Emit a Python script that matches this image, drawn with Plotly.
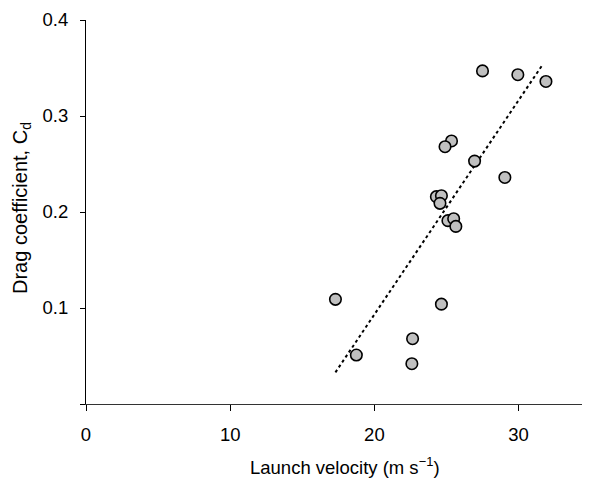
import plotly.graph_objects as go

velocity = [17.3, 18.75, 22.6, 22.65, 24.65, 27.5, 29.95, 31.9, 25.35, 24.9,
            26.95, 29.05, 24.3, 24.65, 24.55, 25.1, 25.5, 25.65]
drag = [0.109, 0.051, 0.042, 0.068, 0.104, 0.347, 0.343, 0.336, 0.274, 0.268,
        0.253, 0.236, 0.216, 0.217, 0.209, 0.191, 0.193, 0.185]

# regression line
trend_velocity = [17.3, 31.6]
trend_drag = [0.033, 0.352]

x_ticks = [0, 10, 20, 30]
y_ticks = [0, 0.1, 0.2, 0.3, 0.4]
y_tick_labels = ["", "0.1", "0.2", "0.3", "0.4"]

FONT = "Liberation Sans, Arial, sans-serif"
OFF = 8  # page body margin offset
W, H = 595, 478
L, R, T, B = 86 - OFF, 13 + OFF, 20 - OFF, 74 + OFF
pw = W - L - R
ph = H - T - B

fig = go.Figure()
fig.add_trace(go.Scatter(x=trend_velocity, y=trend_drag, mode="lines",
                         line=dict(color="black", width=2, dash="dot"),
                         showlegend=False, hoverinfo="skip"))
fig.add_trace(go.Scatter(x=velocity, y=drag, mode="markers",
                         marker=dict(size=11.5, color="#c0c0c0",
                                     line=dict(color="black", width=1.6)),
                         showlegend=False))

fig.update_layout(
    template="none",
    width=W, height=H,
    margin=dict(l=L, r=R, t=T, b=B, autoexpand=False),
    paper_bgcolor="white", plot_bgcolor="white",
    font=dict(family=FONT, size=18.5, color="black"),
    xaxis=dict(range=[0, 34.4], tickvals=x_ticks, ticks="outside", ticklen=6,
               tickcolor="black", showline=True, linecolor="#333", linewidth=1,
               showgrid=False, zeroline=False, ticklabelstandoff=8,
               automargin=False, tickfont=dict(size=18.5)),
    yaxis=dict(range=[0, 0.4], tickvals=y_ticks, ticktext=y_tick_labels,
               ticks="outside", ticklen=5, tickcolor="black", showline=True,
               linecolor="black", linewidth=1, showgrid=False, zeroline=False,
               ticklabelstandoff=8, automargin=False, tickfont=dict(size=18.5)),
    annotations=[
        dict(text="Launch velocity (m s<sup>−1</sup>)",
             x=(344.5 - 86) / pw, y=(404 - 466) / ph,
             xref="paper", yref="paper", showarrow=False,
             xanchor="center", yanchor="middle", font=dict(size=18.5)),
        dict(text="Drag coefficient, C<sub>d</sub>",
             x=(21 - 86) / pw, y=(404 - 208) / ph,
             xref="paper", yref="paper", showarrow=False, textangle=-90,
             xanchor="center", yanchor="middle", font=dict(size=20)),
    ],
)

fig.write_html("out.html")
